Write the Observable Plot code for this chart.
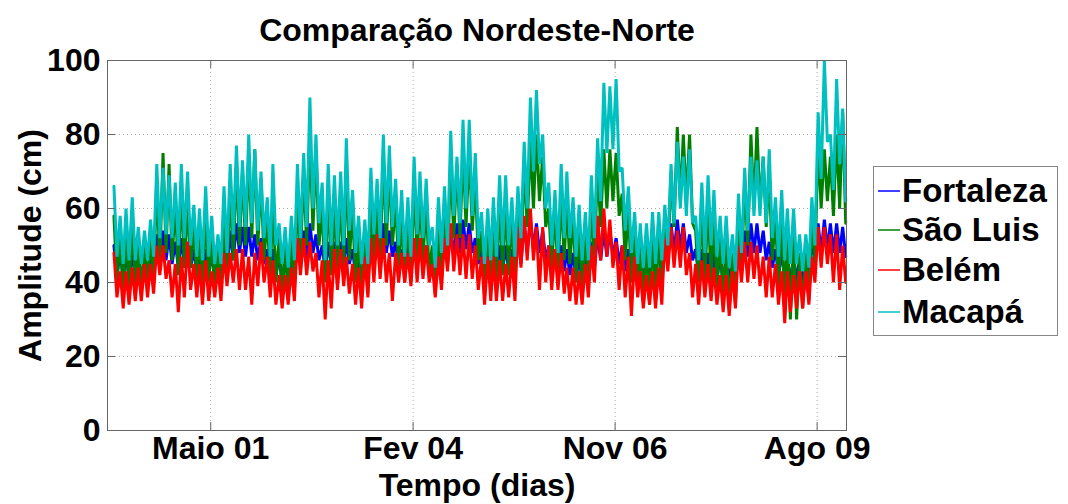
<!DOCTYPE html>
<html><head><meta charset="utf-8">
<script src="https://cdn.jsdelivr.net/npm/d3@7"></script>
<script src="https://cdn.jsdelivr.net/npm/@observablehq/plot@0.6"></script>
<style>
body{margin:0;background:#fff;}
#wrap{position:relative;width:1068px;height:504px;font-family:"Liberation Sans",Arial,sans-serif;font-weight:bold;}
#legend{position:absolute;left:873px;top:166px;width:183px;height:168px;border:1px solid #888;background:#fff;}
.row{position:absolute;left:4px;height:40px;display:flex;align-items:center;font-size:33px;color:#000;white-space:nowrap;}
.row svg{margin-right:2px;}
</style></head>
<body><div id="wrap"><div id="legend"></div></div>
<script>
const title = "Comparação Nordeste-Norte";
const xLabel = "Tempo (dias)";
const yLabel = "Amplitude (cm)";
const seriesNames = ["Fortaleza", "São Luis", "Belém", "Macapá"];
const seriesColors = ["#0000ff", "#008000", "#ff0000", "#00bfbf"];
const xTickDates = [new Date(Date.UTC(2001,4,1)), new Date(Date.UTC(2004,1,1)), new Date(Date.UTC(2006,10,1)), new Date(Date.UTC(2009,7,1))];
const xTickLabels = ["Maio 01", "Fev 04", "Nov 06", "Ago 09"];
const yTicks = [0, 20, 40, 60, 80, 100];
const firstYear = 2000; // monthly samples, Jan 2000 .. Dec 2009

// monthly upper / lower envelopes
const fortalezaHi = [50,48,48,48,47,48,49,53,54,53,51,52, 51,49,48,49,48,48,50,54,56,55,55,53, 52,49,49,47,47,48,52,54,56,53,50,51, 51,51,52,49,47,48,53,54,56,54,51,49, 49,52,52,50,47,49,52,55,56,57,56,52, 49,48,49,50,50,49,53,56,57,56,54,50, 49,50,49,48,47,48,51,53,54,54,52,50, 49,48,47,47,48,49,53,56,57,56,53,49, 49,48,48,47,47,47,51,54,56,56,54,51, 49,48,47,47,47,48,52,56,57,56,56,55];
const fortalezaLo = [42,41,41,41,40,41,42,45,46,45,44,44, 44,42,41,42,41,41,43,46,48,47,47,46, 45,42,42,40,40,41,45,46,48,46,43,44, 44,44,45,42,40,41,45,46,48,47,44,42, 42,45,45,43,40,42,45,47,48,49,48,45, 42,41,42,43,43,42,45,48,49,48,46,43, 42,43,42,41,40,41,44,46,47,47,45,43, 42,41,40,40,41,42,46,48,49,48,46,42, 42,41,41,40,40,40,44,47,48,48,46,44, 42,41,40,40,40,41,45,48,49,48,48,47];
const saoLuisHi = [58,52,54,56,50,50,53,68,75,72,62,66, 62,56,55,60,52,50,58,66,72,70,74,76, 68,58,64,52,50,53,64,70,80,76,60,66, 62,64,72,60,53,52,64,62,74,72,62,58, 58,68,64,62,50,56,60,74,72,76,76,68, 54,55,58,62,62,58,60,72,78,80,74,60, 60,64,62,58,55,54,62,72,76,76,75,64, 60,54,52,50,53,54,56,70,82,80,80,54, 60,62,58,53,52,48,58,68,80,82,74,70, 58,60,54,54,48,48,58,78,76,74,80,86];
const saoLuisLo = [40,38,38,39,38,39,40,45,48,46,42,44, 44,40,38,40,38,38,42,46,50,50,52,50, 46,40,40,36,36,38,46,50,54,50,40,42, 42,44,46,40,37,37,45,46,50,50,44,40, 40,46,46,42,37,40,44,52,52,55,54,46, 38,38,40,42,42,40,46,55,60,62,55,44, 42,46,45,40,38,38,46,55,60,62,58,46, 40,37,35,34,36,38,45,55,62,62,56,40, 40,40,38,34,33,34,42,50,60,60,55,46, 38,31,30,30,33,35,45,60,62,58,60,56];
const belemHi = [48,43,43,44,44,45,45,50,50,46,45,47, 51,45,45,46,43,44,48,48,49,49,47,48, 51,47,46,42,42,44,52,52,51,48,46,46, 49,49,47,45,44,47,52,53,52,48,48,48, 48,52,52,50,45,47,52,56,53,53,53,50, 47,47,47,46,45,47,55,58,60,55,55,50, 49,48,44,44,43,45,50,58,60,57,51,50, 47,47,43,42,43,44,52,55,54,55,48,45, 46,45,44,42,42,43,50,51,51,50,47,47, 45,43,43,42,43,43,47,55,55,53,53,50];
const belemLo = [36,33,34,35,35,36,37,42,41,36,32,36, 38,36,34,35,36,35,39,40,38,38,34,39, 40,36,34,33,34,35,42,42,43,36,30,33, 38,39,37,34,33,36,40,41,40,35,40,40, 39,40,41,40,36,38,43,43,42,41,41,38, 34,35,35,35,36,35,44,46,46,38,40,38, 38,37,35,34,34,36,40,46,47,44,38,36, 31,36,33,34,33,34,43,44,44,42,36,34, 36,35,34,32,31,33,40,40,41,39,36,36, 34,29,32,33,33,34,40,44,45,40,38,40];
const macapaHi = [66,58,60,63,55,54,57,72,71,69,67,72, 70,61,60,66,58,53,66,72,77,73,80,76, 70,63,72,56,55,58,72,75,90,80,67,72, 69,70,79,65,58,57,71,68,80,77,68,65, 63,74,70,68,55,63,66,81,74,84,84,75, 59,60,63,69,69,63,66,78,90,92,80,67, 65,72,70,63,61,59,69,79,94,93,95,71, 66,59,56,56,59,59,61,72,78,74,76,58, 67,69,65,58,58,53,64,71,74,73,74,76, 63,65,60,60,53,53,63,86,100,80,95,87];
const macapaLo = [47,45,46,46,45,46,47,52,53,52,50,52, 50,47,46,47,45,45,48,53,55,55,56,54, 52,47,50,45,44,46,52,55,60,56,46,50, 50,50,54,48,45,45,53,52,56,55,50,47, 47,53,52,50,44,48,50,58,56,60,58,52, 45,46,47,50,50,47,52,60,70,72,60,50, 48,52,52,47,46,46,52,62,75,76,70,54, 48,45,44,44,45,46,50,56,60,58,56,46, 48,50,47,45,44,43,48,54,58,58,56,52, 47,46,45,45,43,44,50,68,78,65,72,62];

const his = [fortalezaHi, saoLuisHi, belemHi, macapaHi];
const los = [fortalezaLo, saoLuisLo, belemLo, macapaLo];

function rowsFor(k) {
  const out = [];
  his[k].forEach((h, i) => {
    out.push({date: new Date(Date.UTC(firstYear, i, 6)), value: h, series: seriesNames[k]});
    out.push({date: new Date(Date.UTC(firstYear, i, 21)), value: los[k][i], series: seriesNames[k]});
  });
  return out;
}

const plotH = 504 - 60 - 74, plotW = 1068 - 107 - 222;
const font = '"Liberation Sans", Arial, sans-serif';

const chart = Plot.plot({
  width: 1068, height: 504,
  marginLeft: 107, marginRight: 222, marginTop: 60, marginBottom: 74,
  style: {fontFamily: font, fontWeight: "bold", fontSize: "32px", color: "#000", background: "transparent", overflow: "visible"},
  x: {type: "utc", domain: [new Date(Date.UTC(1999,11,5)), new Date(Date.UTC(2009,11,25))], label: null, axis: null},
  y: {domain: [0, 100], label: null, axis: null},
  color: {domain: seriesNames, range: seriesColors},
  marks: [
    Plot.gridX(xTickDates, {stroke: "#aaa", strokeOpacity: 1, strokeDasharray: "1,3"}),
    Plot.gridY(yTicks, {stroke: "#aaa", strokeOpacity: 1, strokeDasharray: "1,3"}),
    ...seriesNames.map((s, k) => Plot.line(rowsFor(k), {x: "date", y: "value", stroke: seriesColors[k], strokeWidth: 3, strokeLinejoin: "miter", strokeMiterlimit: 1.5})),
    Plot.frame({stroke: "#666"}),
    Plot.ruleX(xTickDates, {insetTop: plotH - 8, stroke: "#666"}),
    Plot.ruleX(xTickDates, {insetBottom: plotH - 8, stroke: "#666"}),
    Plot.ruleY(yTicks, {insetRight: plotW - 8, stroke: "#666"}),
    Plot.ruleY(yTicks, {insetLeft: plotW - 8, stroke: "#666"}),
    Plot.axisX(xTickDates, {tickSize: 0, tickPadding: 6, tickFormat: (d, i) => xTickLabels[i], fontSize: 32, label: null}),
    Plot.axisY(yTicks, {tickSize: 0, tickPadding: 7, fontSize: 32, label: null}),
    Plot.text([title], {frameAnchor: "top", dy: -30, fontSize: 32, fontWeight: "bold", lineAnchor: "middle"}),
    Plot.text([xLabel], {frameAnchor: "bottom", dy: 55, fontSize: 32, fontWeight: "bold", lineAnchor: "middle"}),
    Plot.text([yLabel], {frameAnchor: "left", dx: -77, rotate: -90, textAnchor: "middle", fontSize: 32, fontWeight: "bold", lineAnchor: "middle"})
  ]
});
const wrap = document.getElementById("wrap");
wrap.insertBefore(chart, wrap.firstChild);

const legend = document.getElementById("legend");
const rowTops = [4, 43, 83, 125];
seriesNames.forEach((s, k) => {
  const r = document.createElement("div");
  r.className = "row";
  r.style.top = rowTops[k] + "px";
  r.innerHTML = `<svg width="22" height="4"><line x1="0" x2="22" y1="2" y2="2" stroke="${seriesColors[k]}" stroke-width="1.5"/></svg>${s}`;
  legend.appendChild(r);
});
</script>
</body></html>
